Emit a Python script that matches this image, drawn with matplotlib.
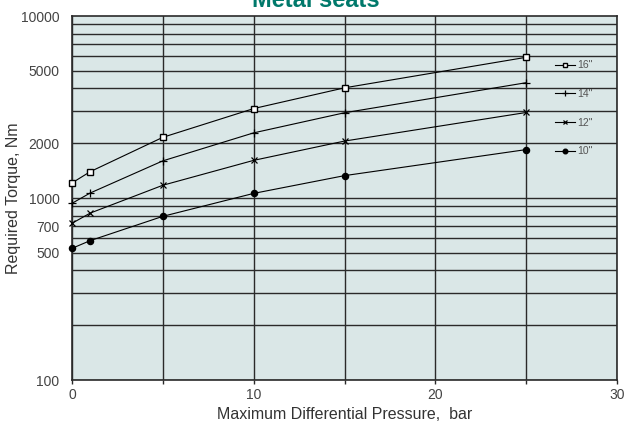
import matplotlib
matplotlib.use("Agg")
import matplotlib.pyplot as plt
from matplotlib.ticker import FixedLocator, NullFormatter, NullLocator

plt.rcParams['font.family'] = ['Liberation Sans', 'DejaVu Sans']

# differential pressure, bar
pressure = [0, 1, 5, 10, 15, 25]

# required torque (Nm) per valve size
torque_16 = [1210, 1395, 2155, 3100, 4030, 5930]
torque_14 = [935, 1065, 1600, 2280, 2940, 4300]
torque_12 = [726, 826, 1175, 1610, 2055, 2950]
torque_10 = [529, 583, 793, 1060, 1327, 1845]

sizes = ['16"', '14"', '12"', '10"']
series = [torque_16, torque_14, torque_12, torque_10]
markers = [
    dict(marker='s', markersize=4.6, markerfacecolor='white', markeredgewidth=1.0),
    dict(marker='+', markersize=5.5, markeredgewidth=0.9),
    dict(marker='x', markersize=4.5, markeredgewidth=0.9),
    dict(marker='o', markersize=4.4, markerfacecolor='black'),
]

y_ticks = [100, 500, 700, 1000, 2000, 5000, 10000]
x_ticks = [0, 10, 20, 30]

fig = plt.figure(figsize=(6.26, 4.25), dpi=100)
ax = fig.add_axes([72 / 626, 1 - 380 / 425, 545 / 626, 364 / 425])
ax.set_facecolor('#dae7e7')

ax.set_yscale('log')
ax.set_xlim(0, 30)
ax.set_ylim(100, 10000)

# horizontal grid at every log step, vertical every 5 bar
for dec in (100, 1000):
    for m in range(1, 10):
        ax.axhline(dec * m, color='#2a2a2a', lw=1.0, zorder=1)
for xv in range(0, 31, 5):
    ax.axvline(xv, color='#2a2a2a', lw=1.0, zorder=1)

for vals, lab, mk in zip(series, sizes, markers):
    ax.plot(pressure, vals, color='black', lw=0.8, markeredgecolor='black',
            label=lab, zorder=3, clip_on=False, **mk)

ax.yaxis.set_major_locator(FixedLocator(y_ticks))
ax.yaxis.set_minor_locator(NullLocator())
ax.yaxis.set_minor_formatter(NullFormatter())
ax.set_yticklabels([str(v) for v in y_ticks])
ax.tick_params(axis='y', length=0, pad=9, labelsize=10, labelcolor='#444444')

ax.xaxis.set_major_locator(FixedLocator(x_ticks))
ax.xaxis.set_minor_locator(FixedLocator([5, 15, 25]))
ax.tick_params(axis='x', which='both', length=3, width=1, color='#2a2a2a',
               pad=3, labelsize=10, labelcolor='#444444')

for s in ax.spines.values():
    s.set_color('#2a2a2a')
    s.set_linewidth(1.2)

ax.set_xlabel('Maximum Differential Pressure,  bar', fontsize=11.5,
              color='#333333', va='center')
ax.xaxis.set_label_coords(0.5, -0.096)
ax.set_ylabel('Required Torque, Nm', fontsize=11.5, color='#333333', va='center')
ax.yaxis.set_label_coords(-0.108, 0.5)

leg = ax.legend(loc='upper left', bbox_to_anchor=(0.876, 0.893), frameon=False,
                fontsize=7.5, handlelength=2.0, handletextpad=0.2, numpoints=1,
                labelspacing=1.8, borderpad=0, markerscale=0.75)
for t in leg.get_texts():
    t.set_color('#555555')

# title sits partly above the top edge
fig.text(316 / 626, 1 - 7 / 425, 'Metal seats', ha='center', va='baseline',
         fontsize=17, fontweight='bold', color='#00796b')

fig.savefig('out.png', dpi=100)
